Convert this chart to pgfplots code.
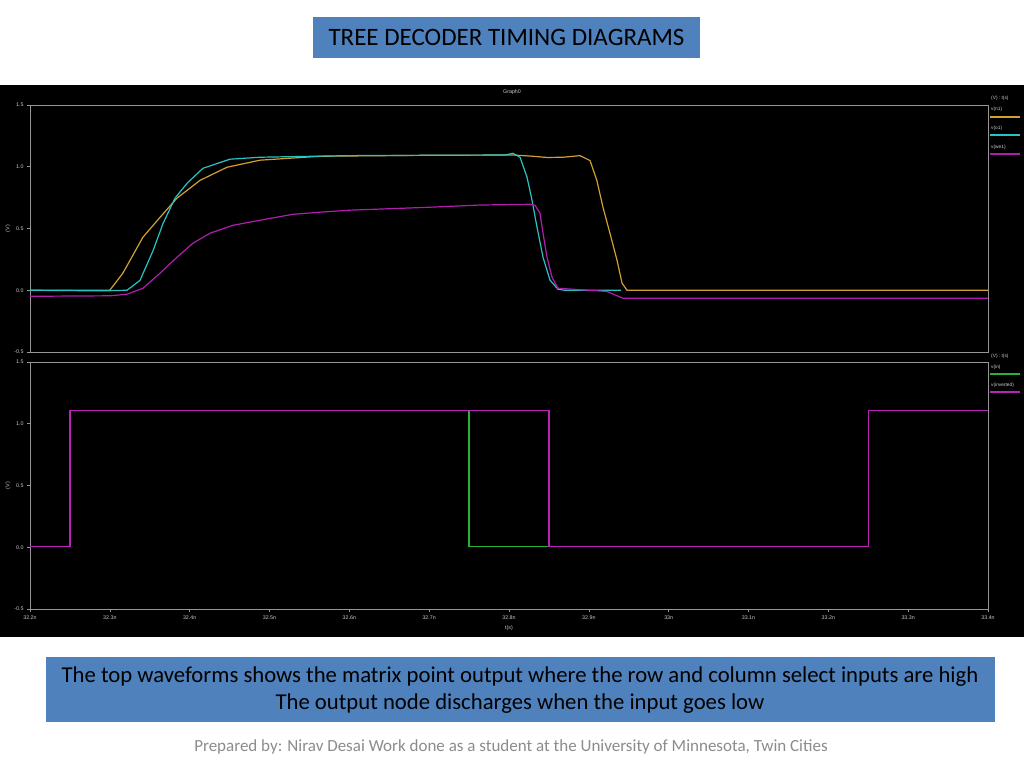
\documentclass[border=0pt]{standalone}
\usepackage{pgfplots}
\pgfplotsset{compat=1.18}
\usepackage{fontspec}
\setmainfont{Carlito}
\newfontfamily\tickfont{Liberation Sans}
\definecolor{slideblue}{RGB}{79,129,189}
\definecolor{waveorange}{RGB}{210,160,50}
\definecolor{wavecyan}{RGB}{40,195,195}
\definecolor{wavepurple}{RGB}{175,30,175}
\definecolor{wavegreen}{RGB}{40,180,50}
\definecolor{wavemagenta}{RGB}{185,35,185}
\definecolor{axgray}{RGB}{150,150,150}
\definecolor{txgray}{RGB}{205,205,205}
\pgfplotsset{
  scopestyle/.style={
    scale only axis, width=958pt, height=247pt,
    xmin=32.2, xmax=33.4, ymin=-0.5, ymax=1.5,
    axis line style={axgray, line width=0.8pt},
    tick style={axgray, line width=0.6pt},
    tick align=outside, major tick length=3pt,
    xtick pos=bottom, ytick pos=left,
    ytick={-0.5,0,0.5,1,1.5},
    yticklabels={-0.5,0.0,0.5,1.0,1.5},
    ticklabel style={font=\tickfont\fontsize{5.3}{6}\selectfont, text=txgray},
    ylabel={(V)},
    ylabel style={font=\tickfont\fontsize{5.3}{6}\selectfont, text=txgray, at={(axis description cs:-0.023,0.5)}, anchor=center},
    clip=true,
  }
}
\begin{document}
\begin{tikzpicture}
\fill[white] (0pt,0pt) rectangle (1024pt,768pt);
\fill[black] (0pt,131pt) rectangle (1024pt,683pt);
% title box
\fill[slideblue] (313pt,710pt) rectangle (700pt,751pt);
\node[font=\fontsize{25}{30}\selectfont, text=black] at (506.5pt,730.5pt) {TREE DECODER TIMING DIAGRAMS};
% bottom box
\fill[slideblue] (46pt,46pt) rectangle (995pt,111pt);
\node[font=\fontsize{22.7}{27}\selectfont, text=black, align=center] at (520pt,78pt) {The top waveforms shows the matrix point output where the row and column select inputs are high\\The output node discharges when the input goes low};
\node[font=\fontsize{17}{20}\selectfont, text={rgb,255:red,140;green,140;blue,140}] at (511pt,21pt) {Prepared by: Nirav Desai Work done as a student at the University of Minnesota, Twin Cities};

\node[font=\tickfont\fontsize{5.3}{6}\selectfont, text=txgray] at (512pt,676pt) {Graph0};

% top graph
\begin{axis}[scopestyle, at={(30pt,416pt)}, anchor=south west, xtick=\empty]
\addplot[color=waveorange, line width=1.2pt] coordinates {
(32.2,0) (32.3,0) (32.3163,0.138) (32.3415,0.43) (32.3628,0.59) (32.384,0.745) (32.413,0.89) (32.4468,0.996) (32.488,1.053) (32.563,1.085) (32.7,1.093) (32.805,1.095) (32.83,1.085) (32.8476,1.075) (32.8677,1.077) (32.889,1.09) (32.9015,1.05) (32.910,0.89) (32.9178,0.67) (32.9265,0.46) (32.9353,0.243) (32.9416,0.057) (32.9478,0) (33.4,0)};
\addplot[color=wavecyan, line width=1.2pt] coordinates {
(32.2,0) (32.29,-0.005) (32.3215,0.0) (32.3378,0.08) (32.3541,0.32) (32.3666,0.54) (32.3816,0.745) (32.3967,0.866) (32.4167,0.988) (32.4505,1.061) (32.4881,1.077) (32.6,1.09) (32.795,1.095) (32.805,1.109) (32.8138,1.077) (32.8226,0.915) (32.8288,0.729) (32.8351,0.51) (32.8426,0.267) (32.8514,0.081) (32.8614,0.008) (32.87,0) (32.94,0)};
\addplot[color=wavepurple, line width=1.2pt] coordinates {
(32.2,-0.049) (32.3,-0.045) (32.3215,-0.032) (32.3415,0.016) (32.3628,0.138) (32.3841,0.267) (32.4042,0.381) (32.4255,0.462) (32.4543,0.526) (32.4881,0.567) (32.5294,0.615) (32.5633,0.632) (32.5996,0.648) (32.6998,0.672) (32.7637,0.690) (32.8263,0.696) (32.8326,0.688) (32.8388,0.623) (32.8426,0.462) (32.8476,0.267) (32.8539,0.105) (32.8614,0.016) (32.9,0.0) (32.9228,-0.01) (32.9428,-0.065) (33.4,-0.065)};
\end{axis}

% bottom graph
\begin{axis}[scopestyle, at={(30pt,159pt)}, anchor=south west,
  xtick={32.2,32.3,32.4,32.5,32.6,32.7,32.8,32.9,33.0,33.1,33.2,33.3,33.4},
  xticklabels={32.2n,32.3n,32.4n,32.5n,32.6n,32.7n,32.8n,32.9n,33n,33.1n,33.2n,33.3n,33.4n},
  xlabel={t(s)}, xlabel style={font=\tickfont\fontsize{5.3}{6}\selectfont, text=txgray, at={(axis description cs:0.5,-0.077)}, anchor=center}]
% v(in): only the part not hidden under v(inverted) is drawn
\addplot[color=wavegreen, line width=1.4pt] coordinates {
(32.75,1.105) (32.75,0.005) (32.85,0.005)};
\addplot[color=wavemagenta, line width=1.4pt] coordinates {
(32.2,0.005) (32.25,0.005) (32.25,1.105) (32.85,1.105) (32.85,0.005) (33.25,0.005) (33.25,1.105) (33.4,1.105)};
\end{axis}

% legends
\begin{scope}[every node/.style={font=\tickfont\fontsize{4.8}{5}\selectfont, text=txgray, anchor=west, inner sep=0pt}]
\node at (991pt,670pt) {(V) : t(s)};
\node at (991pt,659pt) {v(n1)};
\draw[draw=waveorange, line width=1.3pt] (990pt,651pt) -- (1020pt,651pt);
\node at (991pt,640pt) {v(o1)};
\draw[draw=wavecyan, line width=1.3pt] (990pt,633pt) -- (1020pt,633pt);
\node at (991pt,621pt) {v(we1)};
\draw[draw=wavepurple, line width=1.3pt] (990pt,614pt) -- (1020pt,614pt);
\node at (991pt,412pt) {(V) : t(s)};
\node at (991pt,401pt) {v(in)};
\draw[draw=wavegreen, line width=1.3pt] (990pt,394pt) -- (1020pt,394pt);
\node at (991pt,383pt) {v(inverted)};
\draw[draw=wavemagenta, line width=1.3pt] (990pt,376pt) -- (1020pt,376pt);
\end{scope}
\end{tikzpicture}
\end{document}
